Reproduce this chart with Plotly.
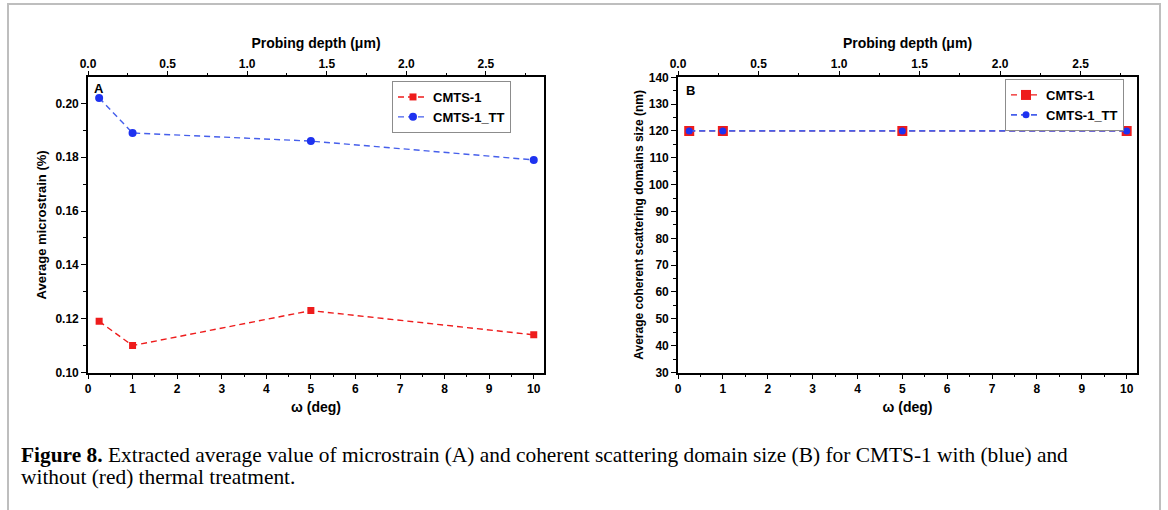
import plotly.graph_objects as go

omega = [0.25, 1, 5, 10]
strain_cmts1 = [0.119, 0.110, 0.123, 0.114]
strain_cmts1_tt = [0.202, 0.189, 0.186, 0.179]
size_cmts1 = [120, 120, 120, 120]
size_cmts1_tt = [120, 120, 120, 120]
depth_ticks = [0.0, 0.5, 1.0, 1.5, 2.0, 2.5]

RED = "rgb(238,28,28)"
BLUE = "rgb(30,50,240)"
BLUE_LINE = "rgb(70,95,235)"
W, H = 1168, 510

def px(x):
    return x / W

def py(y):
    return 1 - y / H

fig = go.Figure()

dash = "6px,4px"
fig.add_trace(go.Scatter(x=omega, y=strain_cmts1, name="CMTS-1", mode="lines+markers",
                         line=dict(color=RED, width=1.4, dash=dash),
                         marker=dict(symbol="square", size=7, color=RED),
                         xaxis="x", yaxis="y", legend="legend"))
fig.add_trace(go.Scatter(x=omega, y=strain_cmts1_tt, name="CMTS-1_TT", mode="lines+markers",
                         line=dict(color=BLUE_LINE, width=1.4, dash=dash),
                         marker=dict(symbol="circle", size=8, color=BLUE),
                         xaxis="x", yaxis="y", legend="legend"))
fig.add_trace(go.Scatter(x=omega, y=size_cmts1, name="CMTS-1", mode="lines+markers",
                         line=dict(color=RED, width=1.2, dash=dash),
                         marker=dict(symbol="square", size=10, color=RED),
                         xaxis="x3", yaxis="y3", legend="legend2"))
fig.add_trace(go.Scatter(x=omega, y=size_cmts1_tt, name="CMTS-1_TT", mode="lines+markers",
                         line=dict(color=BLUE_LINE, width=1.8, dash=dash),
                         marker=dict(symbol="circle", size=7, color=BLUE),
                         xaxis="x3", yaxis="y3", legend="legend2"))
# invisible traces so the top (probing depth) axes are drawn
for xa, ya in (("x2", "y"), ("x4", "y3")):
    fig.add_trace(go.Scatter(x=depth_ticks, y=[None] * len(depth_ticks), mode="markers",
                             marker=dict(opacity=0), showlegend=False, hoverinfo="skip",
                             xaxis=xa, yaxis=ya))

tickfont = dict(family="Liberation Sans", size=12, color="black", weight="bold")
titlefont = dict(family="Liberation Sans", size=14, color="black", weight="bold")

dom_l = [px(88), px(544)]
dom_r = [px(678), px(1137)]
dom_y = [py(372.5), py(77.3)]

def xbottom(domain, anchor):
    return dict(domain=domain, anchor=anchor, range=[0, 10.23], dtick=1, tick0=0,
                automargin=False,
                showline=True, linecolor="black", linewidth=1.6, mirror=False,
                ticks="outside", ticklen=5, tickwidth=1.4, tickcolor="black",
                minor=dict(dtick=0.5, ticks="outside", ticklen=3, tickwidth=1.2, tickcolor="black", showgrid=False),
                showgrid=False, zeroline=False, tickfont=tickfont, ticklabelstandoff=-1,
                title=dict(text="ω (deg)", font=titlefont, standoff=7))

def xtop(domain, anchor, overlay, rmax):
    return dict(domain=domain, anchor=anchor, overlaying=overlay, side="top",
                automargin=False,
                range=[0, rmax], dtick=0.5, tick0=0, tickformat=".1f",
                showline=True, linecolor="black", linewidth=1.6,
                ticks="outside", ticklen=5, tickwidth=1.4, tickcolor="black",
                minor=dict(dtick=0.25, ticks="outside", ticklen=3, tickwidth=1.2, tickcolor="black", showgrid=False),
                showgrid=False, zeroline=False, tickfont=tickfont, ticklabelstandoff=-2,
                title=dict(text="Probing depth (μm)", font=titlefont, standoff=5))

legend_font = dict(family="Liberation Sans", size=13, color="black", weight="bold")

fig.update_layout(
    width=W, height=H,
    margin=dict(l=0, r=0, t=0, b=0, autoexpand=False),
    paper_bgcolor="white", plot_bgcolor="white",
    xaxis=xbottom(dom_l, "y"),
    xaxis2=xtop(dom_l, "y", "x", 2.865),
    yaxis=dict(domain=dom_y, anchor="x", range=[0.10, 0.2097], dtick=0.02, tick0=0.1, tickformat=".2f",
               automargin=False,
               showline=True, linecolor="black", linewidth=1.6, mirror=True,
               ticks="outside", ticklen=5, tickwidth=1.4, tickcolor="black",
               minor=dict(dtick=0.01, ticks="outside", ticklen=3, tickwidth=1.2, tickcolor="black", showgrid=False),
               showgrid=False, zeroline=False, tickfont=tickfont,
               title=dict(text="Average microstrain (%)", font=dict(family="Liberation Sans", size=13, color="black", weight="bold"), standoff=6)),
    xaxis3=xbottom(dom_r, "y3"),
    xaxis4=xtop(dom_r, "y3", "x3", 2.85),
    yaxis3=dict(domain=dom_y, anchor="x3", range=[30, 140], dtick=10, tick0=30,
                automargin=False,
                showline=True, linecolor="black", linewidth=1.6, mirror=True,
                ticks="outside", ticklen=5, tickwidth=1.4, tickcolor="black",
                minor=dict(dtick=5, ticks="outside", ticklen=3, tickwidth=1.2, tickcolor="black", showgrid=False),
                showgrid=False, zeroline=False, tickfont=tickfont,
                title=dict(text="Average coherent scattering domains size (nm)", font=dict(family="Liberation Sans", size=12, color="black", weight="bold"), standoff=3)),
    legend=dict(x=px(392), y=py(81), xanchor="left", yanchor="top",
                bordercolor="rgb(140,140,140)", borderwidth=1, bgcolor="white",
                font=legend_font, tracegroupgap=0, itemwidth=30),
    legend2=dict(x=px(1005), y=py(79), xanchor="left", yanchor="top",
                 bordercolor="rgb(140,140,140)", borderwidth=1, bgcolor="white",
                 font=legend_font, tracegroupgap=0, itemwidth=30),
    shapes=[dict(type="rect", xref="paper", yref="paper", x0=px(8), x1=px(1160), y0=-0.05, y1=py(4),
                 line=dict(color="rgb(190,190,190)", width=2), fillcolor="rgba(0,0,0,0)", layer="below")],
    annotations=[
        dict(text="A", x=px(92), y=py(88), xref="paper", yref="paper", xanchor="left", yanchor="middle",
             showarrow=False, font=dict(family="Liberation Sans", size=13, color="black", weight="bold")),
        dict(text="B", x=px(684), y=py(90), xref="paper", yref="paper", xanchor="left", yanchor="middle",
             showarrow=False, font=dict(family="Liberation Sans", size=13, color="black", weight="bold")),
        dict(text="<b>Figure 8.</b> Extracted average value of microstrain (A) and coherent scattering domain size (B) for CMTS-1 with (blue) and",
             x=px(19), y=py(455), xref="paper", yref="paper", xanchor="left", yanchor="middle",
             showarrow=False, font=dict(family="Liberation Serif", size=21.4, color="black")),
        dict(text="without (red) thermal treatment.",
             x=px(19), y=py(477), xref="paper", yref="paper", xanchor="left", yanchor="middle",
             showarrow=False, font=dict(family="Liberation Serif", size=21.4, color="black")),
    ],
)

fig.write_html("out.html")
